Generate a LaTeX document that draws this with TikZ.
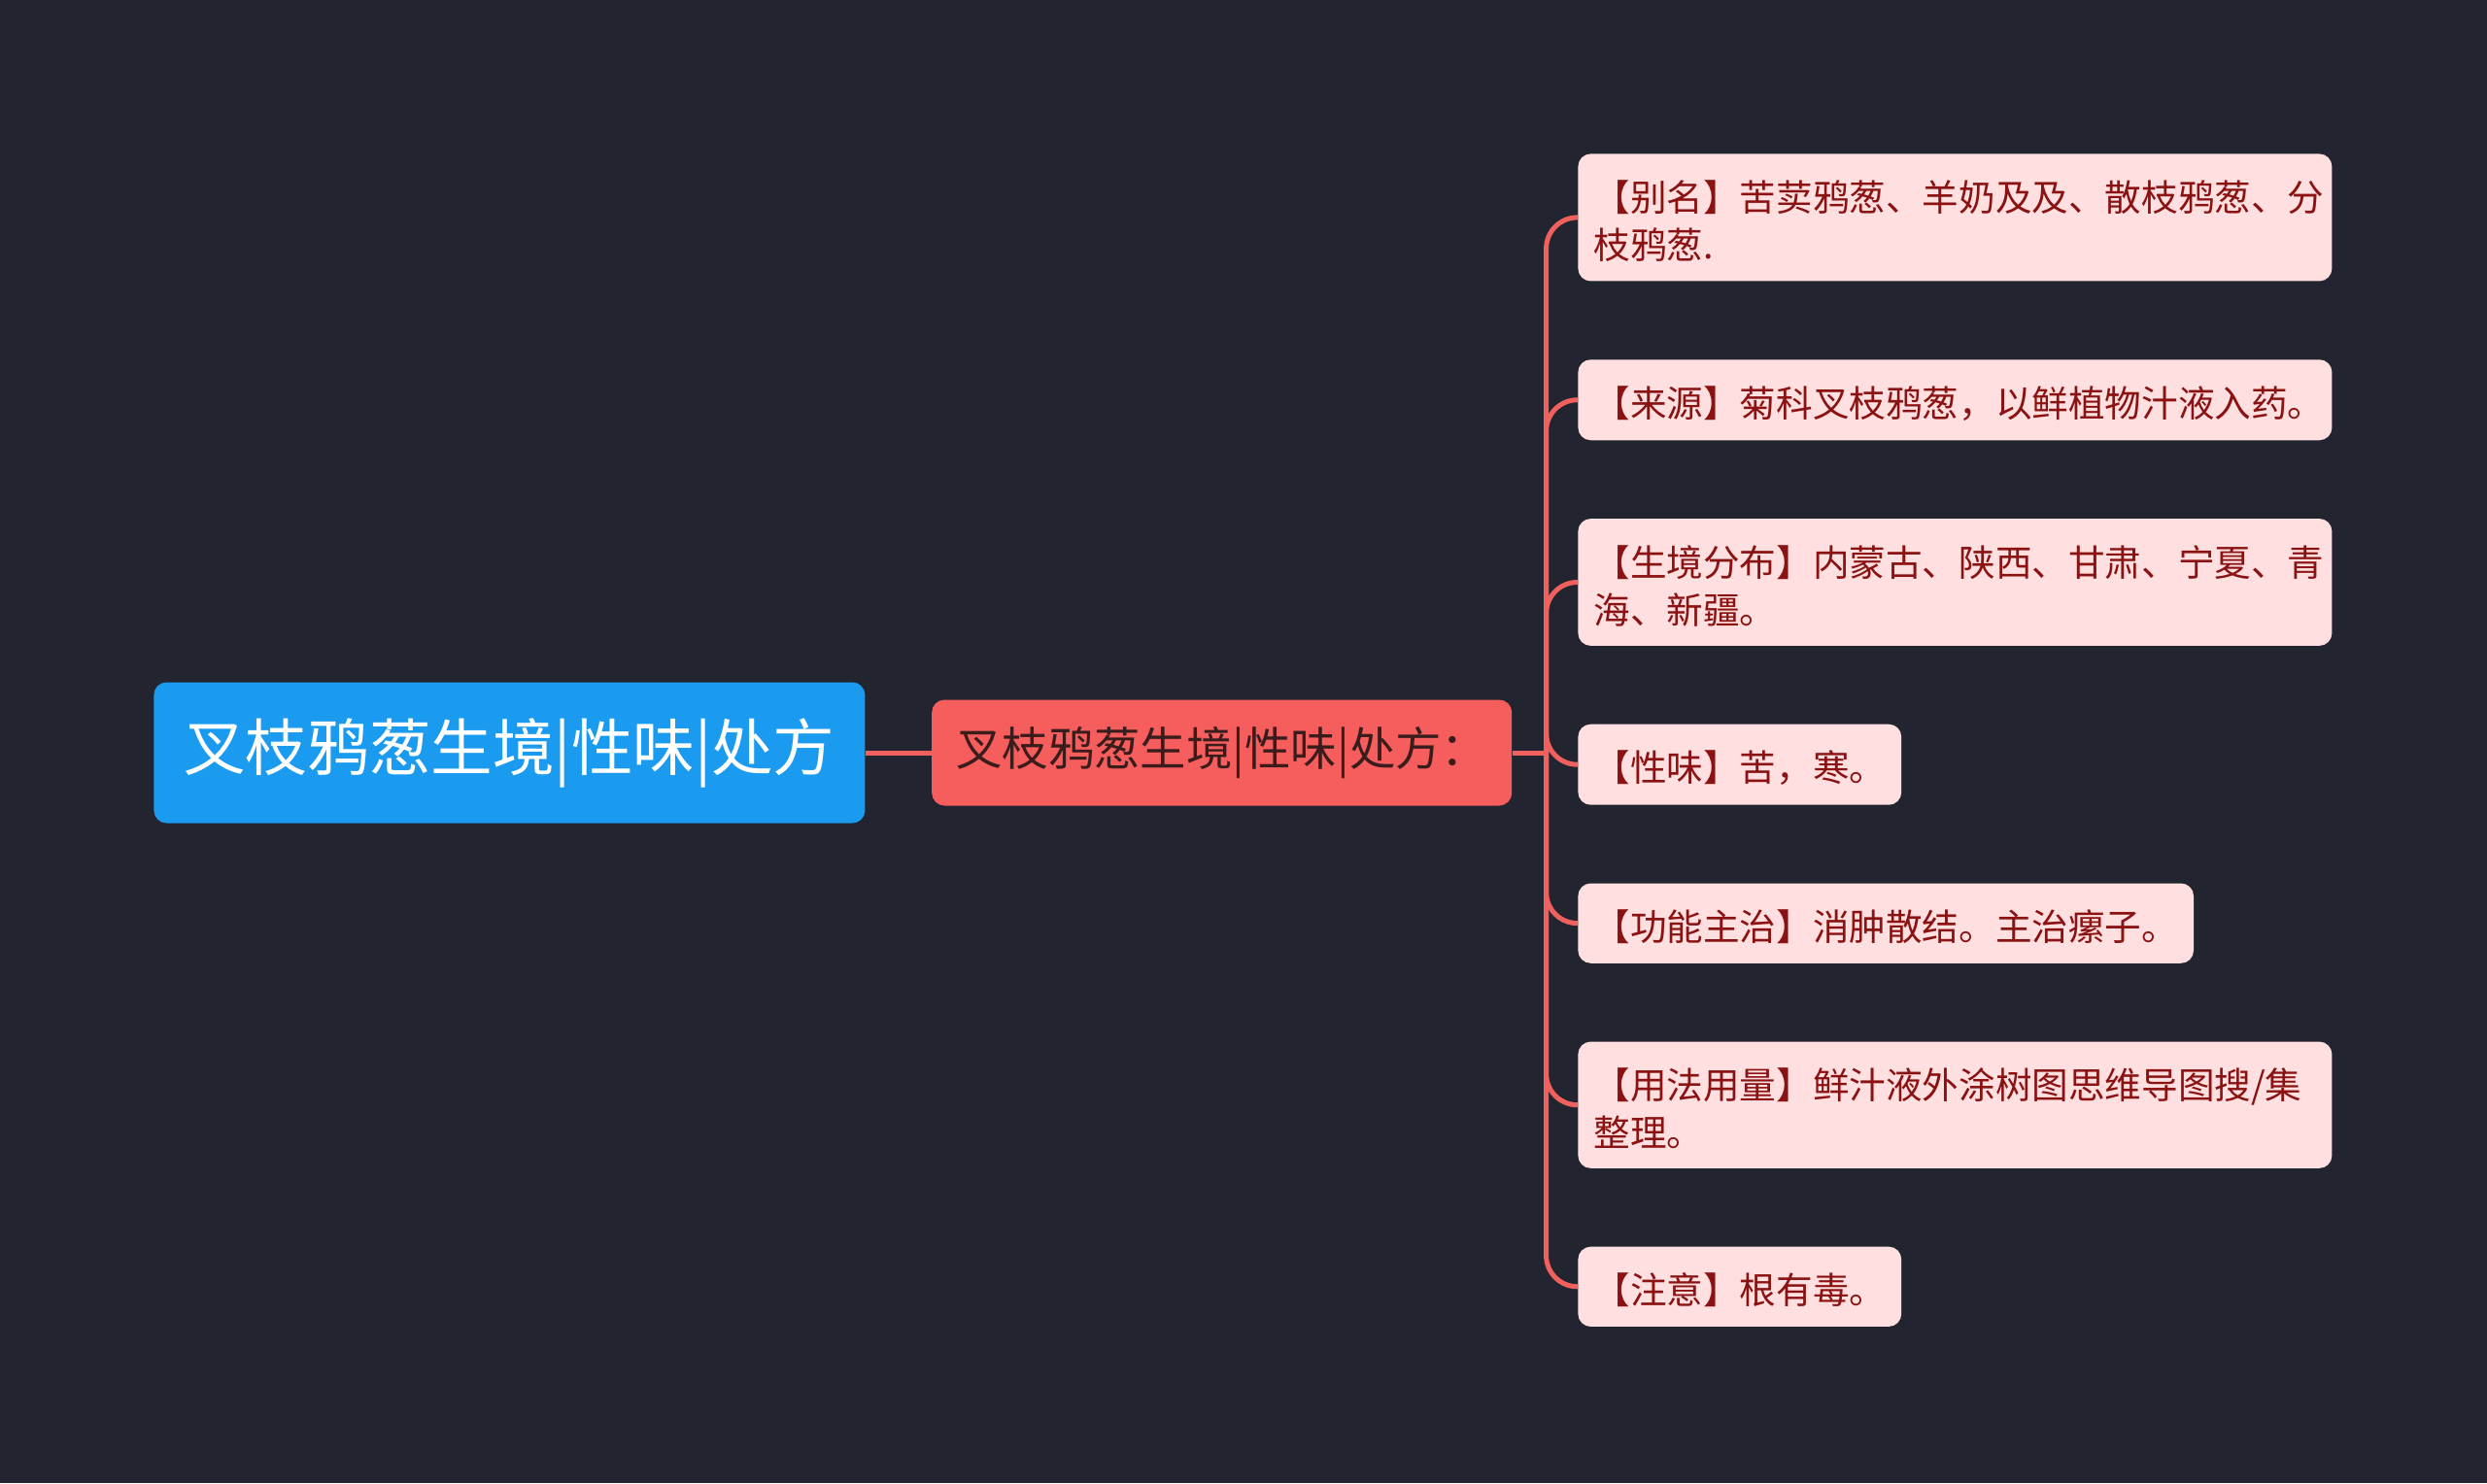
\documentclass[tikz,border=0pt]{standalone}
\usepackage{fontspec}
\setmainfont{Noto Sans CJK SC}
\usepackage{tikz}
\usetikzlibrary{positioning}

\definecolor{bgdark}{HTML}{22252F}
\definecolor{rootblue}{HTML}{1A9BF0}
\definecolor{midred}{HTML}{F55E5C}
\definecolor{midtext}{HTML}{3A1C1C}
\definecolor{leaffill}{HTML}{FFDFDF}
\definecolor{leaftext}{HTML}{8B1212}
\definecolor{linkred}{HTML}{F0605D}

\begin{document}
\begin{tikzpicture}[
		rootbox/.style={fill=rootblue, text=white, rounded corners=6.5pt, font=\fontsize{31.8pt}{36pt}\selectfont, minimum width=366pt, minimum height=72.5pt, inner sep=0pt},
		midbox/.style={fill=midred, text=midtext, rounded corners=6.5pt, font=\fontsize{23.7pt}{28pt}\selectfont, minimum width=298pt, minimum height=54.5pt, inner xsep=12.5pt, inner ysep=0pt},
		leafbox/.style={fill=leaffill, text=leaftext, rounded corners=6.5pt, font=\fontsize{18.8pt}{24.5pt}\selectfont, align=left, inner xsep=8pt, inner ysep=10pt, minimum height=40.8pt, execute at begin node=\rule{0pt}{19.5pt}},
		widebox/.style={leafbox, text width=372pt},
		link/.style={draw=linkred, line width=2.5pt, rounded corners=16pt}
	]
				\fill[bgdark] (0,0) rectangle (1280pt,-763.5pt);
				\useasboundingbox (0,0) rectangle (1280pt,-763.5pt);
				
				\node[rootbox, anchor=west] (root) at (79pt,-387.5pt) {\raisebox{-3.3pt}{叉枝鸦葱生境|性味|处方}};
				\node[midbox, right=34pt of root] (mid) {\raisebox{-3pt}{叉枝鸦葱生境|性味|处方：}};
				
				\node[widebox, anchor=north west] (alias) at (812pt,-79pt) {【别名】苦荬鸦葱、羊奶及及、散枝鸦葱、分\\枝鸦葱.};
				\node[widebox, below=40pt of alias.south west, anchor=north west] (source) {【来源】菊科叉枝鸦葱，以鲜植物汁液入药。};
				\node[widebox, below=40pt of source.south west, anchor=north west] (habitat) {【生境分布】内蒙古、陕西、甘肃、宁夏、青\\海、新疆。};
				\node[leafbox, below=40pt of habitat.south west, anchor=north west] (taste) {【性味】苦，寒。};
				\node[leafbox, below=40pt of taste.south west, anchor=north west] (usage) {【功能主治】消肿散结。主治瘰子。};
				\node[widebox, below=40pt of usage.south west, anchor=north west] (dose) {【用法用量】鲜汁液外涂树图思维导图搜/集\\整理。};
				\node[leafbox, below=40pt of dose.south west, anchor=north west] (caution) {【注意】根有毒。};
				
				\coordinate[right=17.5pt of mid.east] (fork);
				\draw[link] (root.east) -- (mid.west);
				\draw[link] (mid.east) -- (fork);
				\foreach \leaf in {alias, source, habitat, taste, usage, dose, caution}
					\draw[link] (fork) |- (\leaf.west);
			\end{tikzpicture}
\end{document}
